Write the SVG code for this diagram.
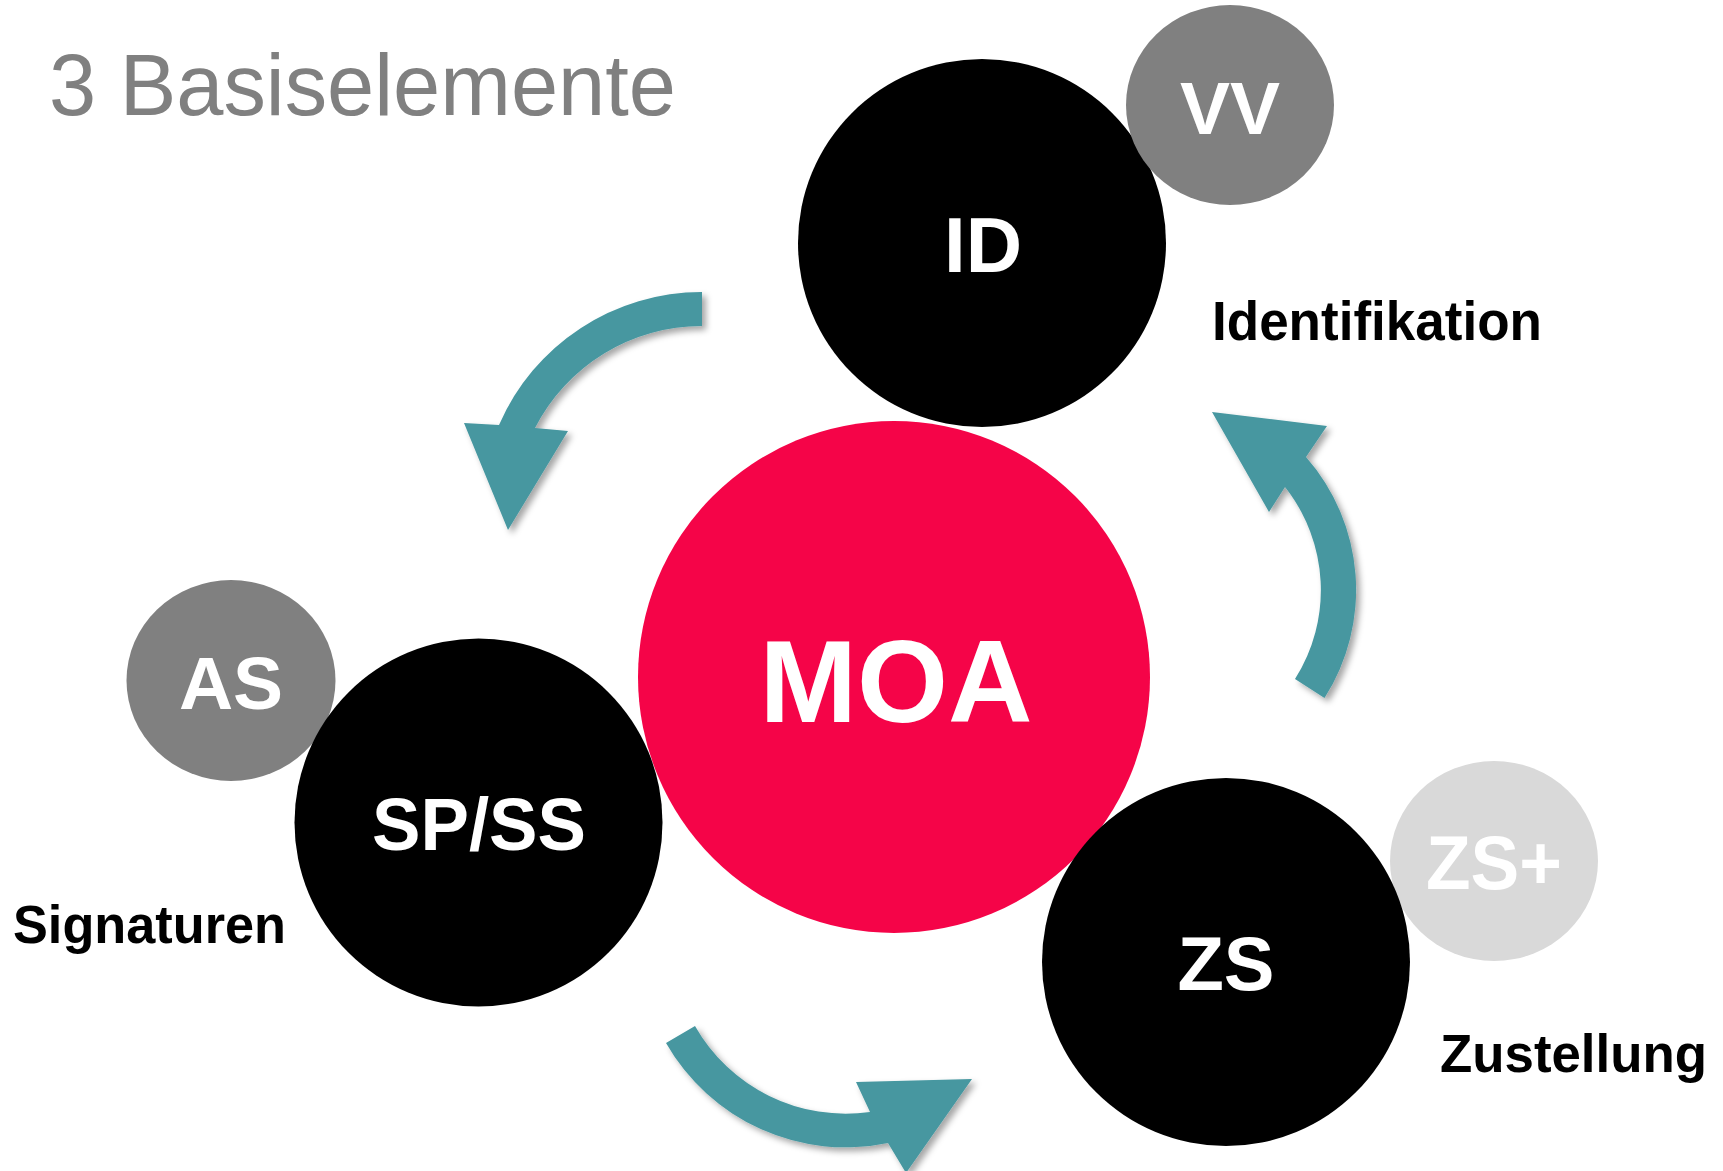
<svg xmlns="http://www.w3.org/2000/svg" width="1723" height="1171" viewBox="0 0 1723 1171">
<defs>
<filter id="shadow" x="-20%" y="-20%" width="140%" height="140%">
<feDropShadow dx="4" dy="4" stdDeviation="3" flood-color="#000" flood-opacity="0.35"/>
</filter>
<style>
.lbl{font-family:"Liberation Sans",Arial,sans-serif;font-weight:bold;fill:#fff;text-anchor:middle}
.cap{font-family:"Liberation Sans",Arial,sans-serif;font-weight:bold;fill:#000}
.arrow{fill:#4697A0;filter:url(#shadow)}
.black{fill:#000}
.gray{fill:#808080}
</style>
</defs>
<rect width="1723" height="1171" fill="#fff"/>
<text x="49" y="115" font-family="Liberation Sans, Arial, sans-serif" font-size="87" fill="#808080" textLength="627" lengthAdjust="spacingAndGlyphs">3 Basiselemente</text>

<g id="connectors">
<path class="arrow" d="M 702 292 A 221 221 0 0 0 499 425 L 464 423 L 508 530 L 568 431 L 535 428 A 187 187 0 0 1 702 326 Z"/>
<path class="arrow" d="M 1324.5 698 A 201 201 0 0 0 1306 457 L 1327 426 L 1212 412 L 1269 512 L 1285 487 A 166 166 0 0 1 1295 679 Z"/>
<path class="arrow" d="M 695 1026 A 173 173 0 0 0 870 1112 L 856 1082 L 972 1079 L 906 1173 L 888 1143 A 207 207 0 0 1 666 1043 Z"/>
</g>

<g id="node-AS">
<ellipse class="gray" cx="231" cy="680.5" rx="104.5" ry="100.5"/>
<text class="lbl" x="231" y="709" font-size="75">AS</text>
</g>
<g id="node-ZSplus">
<ellipse cx="1494" cy="861" rx="104" ry="100" fill="#D9D9D9"/>
<text class="lbl" x="1494" y="889" font-size="76" textLength="136" lengthAdjust="spacingAndGlyphs">ZS+</text>
</g>

<g id="node-MOA">
<circle cx="894" cy="677" r="256" fill="#F50448"/>
<text class="lbl" x="896" y="722" font-size="117">MOA</text>
</g>

<g id="node-ID">
<circle class="black" cx="982" cy="243" r="184"/>
<text class="lbl" x="983" y="272" font-size="78">ID</text>
</g>
<g id="node-VV">
<ellipse class="gray" cx="1230" cy="105" rx="104" ry="100"/>
<text class="lbl" x="1230" y="134" font-size="75">VV</text>
</g>

<g id="node-SPSS">
<circle class="black" cx="478.5" cy="822.5" r="184"/>
<text class="lbl" x="479" y="850" font-size="75" textLength="214" lengthAdjust="spacingAndGlyphs">SP/SS</text>
</g>

<g id="node-ZS">
<circle class="black" cx="1226" cy="962" r="184"/>
<text class="lbl" x="1226" y="990" font-size="76">ZS</text>
</g>

<g id="label-Identifikation">
<text class="cap" x="1212" y="340" font-size="55" textLength="330" lengthAdjust="spacingAndGlyphs">Identifikation</text>
</g>
<g id="label-Signaturen">
<text class="cap" x="13" y="943" font-size="54" textLength="273" lengthAdjust="spacingAndGlyphs">Signaturen</text>
</g>
<g id="label-Zustellung">
<text class="cap" x="1440" y="1072" font-size="54" textLength="267" lengthAdjust="spacingAndGlyphs">Zustellung</text>
</g>
</svg>
